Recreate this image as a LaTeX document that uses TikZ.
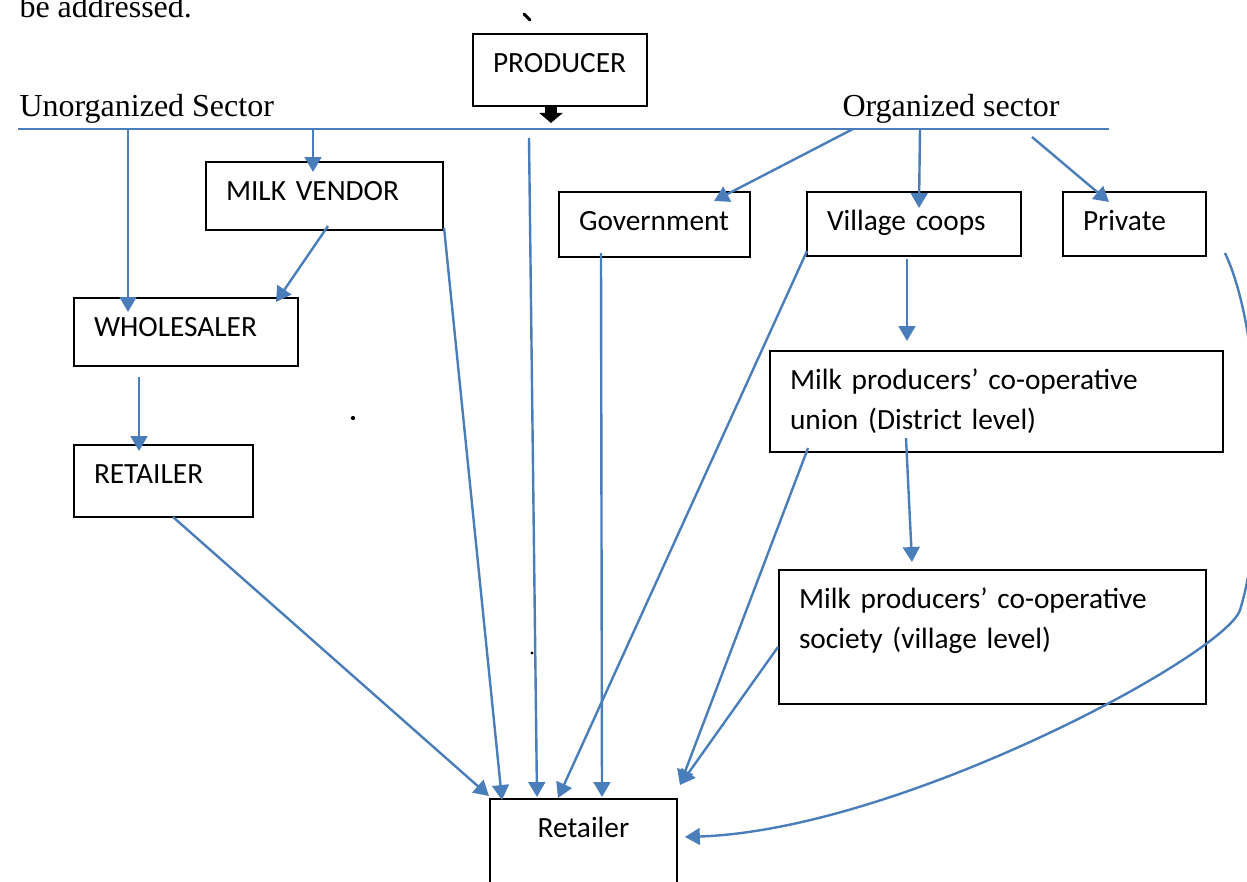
\documentclass[tikz,border=0pt]{standalone}
\usepackage{fontspec}
\setmainfont{Liberation Serif}
\newfontfamily\boxfamily{Carlito}
\usetikzlibrary{arrows.meta,calc}
\definecolor{lineblue}{RGB}{74,126,187}
\tikzset{
  stage/.style={
      draw,
      line width=0.5pt,
      anchor=north west,
      inner xsep=7.5pt,
      inner ysep=0pt,
      outer sep=0pt,
      align=left,
      text height=14.4pt,
      font=\boxfamily\fontsize{11pt}{15pt}\selectfont,
  },
  sector/.style={
      anchor=base west,
      inner sep=0pt,
      font=\fontsize{12pt}{14pt}\selectfont,
  },
  sectorline/.style={
      draw=lineblue,
      line width=0.85pt,
  },
  flow/.style={
      draw=lineblue,
      line width=0.9pt,
      -{Triangle[width=6.3pt,length=5.6pt]},
  },
  blockarrow/.style={
      line width=4.5pt,
      -{Triangle[width=8.6pt,length=3.75pt]},
  },
}

\begin{document}
\begin{tikzpicture}[x=0.375pt,y=-0.375pt]
  \useasboundingbox (0,0) rectangle (1247,882);
  \clip (0,0) rectangle (1247,882);

  % texts over the sector line
  \node[sector] (above) at (19,18) {be addressed.};
  \node[sector] (unorg) at (19,117) {Unorganized Sector};
  \node[sector] (org) at (842,117) {Organized sector};

  \coordinate (lineL) at (18,129);
  \coordinate (lineR) at (1109,129);
  \draw[sectorline] (lineL) -- (lineR);

  % boxes
  \node[stage, text width=50.25pt, text depth=12.6pt] (producer) at (473,34) {PRODUCER};
  \node[stage, text width=73.9pt, text depth=11.1pt] (vendor) at (206,162) {MILK VENDOR};
  \node[stage, text width=69pt, text depth=11.1pt] (wholesaler) at (74,298) {WHOLESALER};
  \node[stage, text width=52.1pt, text depth=12.6pt] (retailerU) at (74,445) {RETAILER};
  \node[stage, text width=56.6pt, text depth=10pt] (gov) at (559,192) {Government};
  \node[stage, text width=65.25pt, text depth=9.6pt] (coops) at (807,192) {Village coops};
  \node[stage, text width=38.6pt, text depth=9.6pt] (private) at (1063,192) {Private};
  \node[stage, text width=154.9pt, text depth=23.5pt] (union) at (770,351)
      {Milk producers’ co-operative\\union (District level)};
  \node[stage, text width=145.1pt, text depth=35.85pt] (society) at (779,570)
      {Milk producers’ co-operative\\society (village level)};
  \node[stage, text width=55.1pt, text depth=23.1pt, align=center] (retailer) at (490,799) {Retailer};

  % points on the sector line
  \coordinate (tapW) at (128,129);
  \coordinate (tapV) at (313,129);
  \coordinate (tapP) at (529,138);
  \coordinate (tapG) at (853,129);
  \coordinate (tapC) at (920,129);
  \coordinate (tapR) at (1032,137);

  \draw[blockarrow] ($(producer.south)+(-9,-1)$) -- ++(0,18);

  % unorganized sector
  \draw[flow] (tapW) -- ($(wholesaler.north west)+(54,14)$);
  \draw[flow] (tapV) -- ($(vendor.north west)+(107,10)$);
  \draw[flow] ($(vendor.south west)+(122,-4)$) -- ($(wholesaler.north east)+(-22,4)$);
  \draw[flow] ($(wholesaler.south west)+(65,11)$) -- ($(retailerU.north west)+(65,6)$);
  \draw[flow] ($(retailerU.south west)+(99,0)$) -- ($(retailer.north west)+(-1,-3)$);
  \draw[flow] ($(vendor.south east)+(1,-2)$) -- ($(retailer.north west)+(12,1)$);
  \draw[flow] (tapP) -- ($(retailer.north west)+(47,-2)$);

  % organized sector
  \draw[flow] (tapG) -- ($(gov.north west)+(155,9)$);
  \draw[flow] (tapC) -- ($(coops.north west)+(112,16)$);
  \draw[flow] (tapR) -- ($(private.north west)+(46,10)$);
  \draw[flow] ($(gov.south west)+(42,-4)$) -- ($(retailer.north west)+(112,-2)$);
  \draw[flow] ($(coops.south west)+(0,-5)$) -- ($(retailer.north west)+(68,-1)$);
  \draw[flow] ($(coops.south west)+(100,3)$) -- ($(union.north west)+(137,-10)$);
  \draw[flow] ($(union.south west)+(136,-14)$) -- ($(society.north west)+(133,-8)$);
  \draw[flow] ($(union.south west)+(38,-4)$) -- ($(retailer.north east)+(3,-14)$);
  \draw[flow] ($(society.south west)+(-1,-57)$) -- ($(retailer.north east)+(3,-14)$);
  \draw[flow] ($(private.south east)+(19,-3)$) .. controls (1262,330) and (1268,520) .. (1240,610)
      .. controls (1225,655) and (900,830) .. ($(retailer.north east)+(8,38)$);

  % stray marks
  \draw[line width=1.1pt, line cap=round] (524,14) -- (530,20);
  \fill (353,418) circle[radius=0.8pt];
  \fill (532,653) circle[radius=0.6pt];
\end{tikzpicture}
\end{document}
